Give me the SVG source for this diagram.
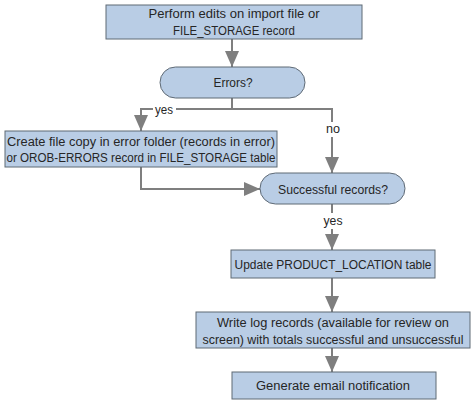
<svg xmlns="http://www.w3.org/2000/svg" width="475" height="404" viewBox="0 0 475 404">
<defs>
<style>
.box{fill:#b9cde5;stroke:#5f6a75;stroke-width:1}
.t{font-family:"Liberation Sans",Arial,sans-serif;font-size:12px;fill:#262626;text-anchor:middle}
.c{fill:none;stroke:#7f7f7f;stroke-width:2}
.lbl{font-family:"Liberation Sans",Arial,sans-serif;font-size:12px;fill:#262626;text-anchor:middle}
</style>
<marker id="ah" markerUnits="userSpaceOnUse" markerWidth="16" markerHeight="14" refX="16" refY="7" orient="auto">
<path d="M0,0 L16,7 L0,14 Z" fill="#7f7f7f"/>
</marker>
</defs>
<rect width="475" height="404" fill="#ffffff"/>
<g id="connectors">
<path class="c" d="M232,39 V67" marker-end="url(#ah)"/>
<path class="c" d="M232,98 V109 H141 V131" marker-end="url(#ah)"/>
<path class="c" d="M232,109 H332 V173" marker-end="url(#ah)"/>
<path class="c" d="M141,167 V189 H260" marker-end="url(#ah)"/>
<path class="c" d="M332,204 V250" marker-end="url(#ah)"/>
<path class="c" d="M332,278 V312" marker-end="url(#ah)"/>
<path class="c" d="M332,348 V372" marker-end="url(#ah)"/>
<rect x="153" y="103" width="23" height="13" fill="#ffffff"/>
<text class="lbl" x="164" y="114" textLength="18" lengthAdjust="spacingAndGlyphs">yes</text>
<rect x="324" y="122" width="17" height="15" fill="#ffffff"/>
<text class="lbl" x="333" y="133" textLength="14" lengthAdjust="spacingAndGlyphs">no</text>
<rect x="320" y="213" width="25" height="16" fill="#ffffff"/>
<text class="lbl" x="333" y="225" textLength="19" lengthAdjust="spacingAndGlyphs">yes</text>
</g>
<g id="n1">
<rect class="box" x="106" y="5" width="256" height="34"/>
<text class="t" x="234" y="18" textLength="171" lengthAdjust="spacingAndGlyphs">Perform edits on import file or</text>
<text class="t" x="234" y="34.5" textLength="122" lengthAdjust="spacingAndGlyphs">FILE_STORAGE record</text>
</g>
<g id="n2">
<rect class="box" x="160" y="67" width="145" height="31" rx="15.5"/>
<text class="t" x="233" y="87" textLength="39" lengthAdjust="spacingAndGlyphs">Errors?</text>
</g>
<g id="n3">
<rect class="box" x="5" y="131" width="272" height="36"/>
<text class="t" x="141" y="145.5" textLength="268" lengthAdjust="spacingAndGlyphs">Create file copy in error folder (records in error)</text>
<text class="t" x="141" y="162" textLength="269" lengthAdjust="spacingAndGlyphs">or OROB-ERRORS record in FILE_STORAGE table</text>
</g>
<g id="n4">
<rect class="box" x="260" y="173" width="145" height="31" rx="15.5"/>
<text class="t" x="333" y="194" textLength="110" lengthAdjust="spacingAndGlyphs">Successful records?</text>
</g>
<g id="n5">
<rect class="box" x="231" y="250" width="204" height="28"/>
<text class="t" x="333" y="268.5" textLength="197" lengthAdjust="spacingAndGlyphs">Update PRODUCT_LOCATION table</text>
</g>
<g id="n6">
<rect class="box" x="196" y="312" width="274" height="36"/>
<text class="t" x="333" y="327" textLength="232" lengthAdjust="spacingAndGlyphs">Write log records (available for review on</text>
<text class="t" x="333" y="343.5" textLength="261" lengthAdjust="spacingAndGlyphs">screen) with totals successful and unsuccessful</text>
</g>
<g id="n7">
<rect class="box" x="232" y="372" width="204" height="27"/>
<text class="t" x="333" y="389.5" textLength="154" lengthAdjust="spacingAndGlyphs">Generate email notification</text>
</g>
</svg>
